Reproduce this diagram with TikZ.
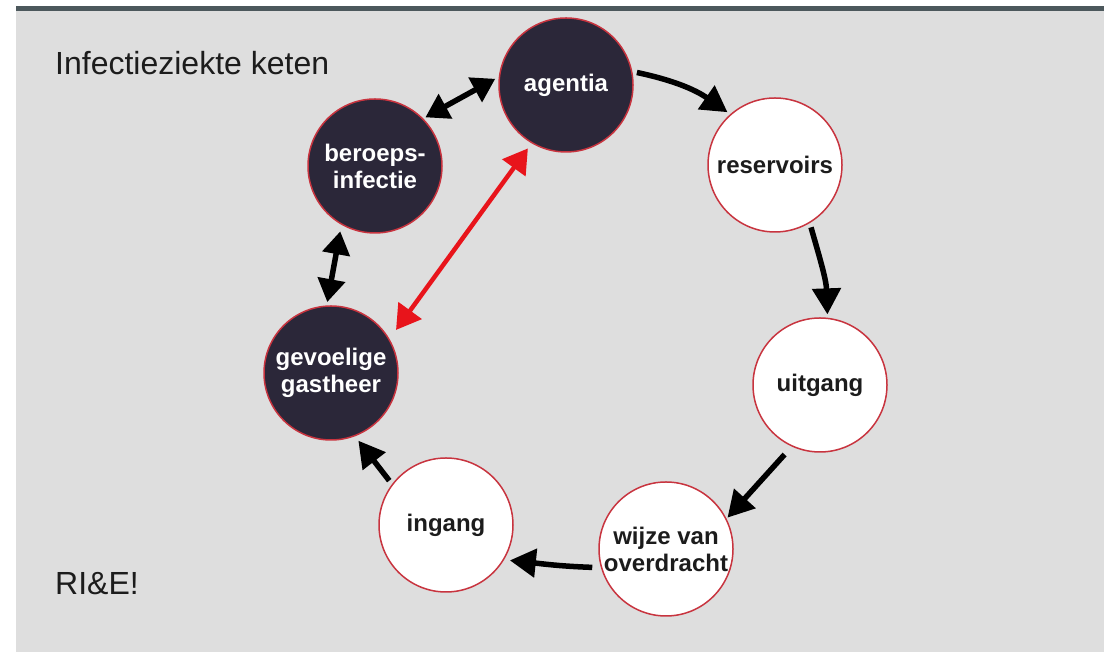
\documentclass[tikz,border=0pt]{standalone}
\usepackage{fontspec}
\setmainfont{Liberation Sans}
\usetikzlibrary{arrows.meta,calc}
\definecolor{bg}{HTML}{DEDEDE}
\definecolor{topline}{HTML}{4C585C}
\definecolor{darkfill}{HTML}{2B2739}
\definecolor{ring}{HTML}{C8343F}
\definecolor{arrowred}{HTML}{E8141B}
\definecolor{txt}{HTML}{1C1C1C}
\begin{document}
\begin{tikzpicture}[x=1pt,y=1pt,
  darkc/.style={circle, fill=darkfill, draw=ring, line width=1.5pt, minimum size=134pt, inner sep=0pt, text=white, font=\bfseries\fontsize{24}{27}\selectfont, align=center},
  lightc/.style={darkc, fill=white, text=txt},
  flow/.style={line width=5.5pt, -{Triangle[length=26pt,width=28pt]}},
  twoway/.style={line width=5.5pt, {Triangle[length=23pt,width=27pt]}-{Triangle[length=23pt,width=27pt]}},
  redway/.style={draw=arrowred, line width=4.5pt, {Triangle[length=24pt,width=28pt]}-{Triangle[length=24pt,width=28pt]}},
  title/.style={anchor=base west, inner sep=0pt, text=txt, font=\fontsize{32}{36}\selectfont}
]
\useasboundingbox (0,0) rectangle (1106,652);
\fill[white] (0,0) rectangle (1106,652);
\fill[bg] (16,0) rectangle (1104,642);
\fill[topline] (16,641) rectangle (1104,646);

\node[title] (t1) at (55,577) {Infectieziekte keten};
\node[title] (t2) at (55,57) {RI\&E!};

\node[darkc]  (agentia)   at (566,567) {agentia};
\node[darkc]  (beroeps)   at (375,486) {beroeps-\\infectie};
\node[lightc] (reserv)    at (775,487) {reservoirs};
\node[lightc] (uitgang)   at (820,267) {uitgang};
\node[lightc] (wijze)     at (666,103) {wijze van\\overdracht};
\node[lightc] (ingang)    at (446,127) {ingang};
\node[darkc]  (gevoelig)  at (331,279) {gevoelige\\gastheer};

\draw[flow] ($(agentia)+(10:72)$) to[out=-12,in=145] ($(reserv)+(132:71)$);
\draw[flow] ($(reserv)+(-60:72)$) to[out=-74,in=92] ($(uitgang)+(84:71)$);
\draw[flow] ($(uitgang)+(243:78)$) -- ($(wijze)+(27:69)$);
\draw[flow] ($(wijze)+(194:76)$) to[out=178,in=-6] ($(ingang)+(-29:73)$);
\draw[flow] ($(ingang)+(142:72)$) -- ($(gevoelig)+(-68:73)$);
\draw[twoway] ($(gevoelig)+(93:71)$) -- ($(beroeps)+(242:74)$);
\draw[twoway] ($(beroeps)+(44:70)$) -- ($(agentia)+(175:71)$);
\draw[redway] ($(gevoelig)+(33.5:78)$) -- ($(agentia)+(239:74)$);
\end{tikzpicture}
\end{document}
